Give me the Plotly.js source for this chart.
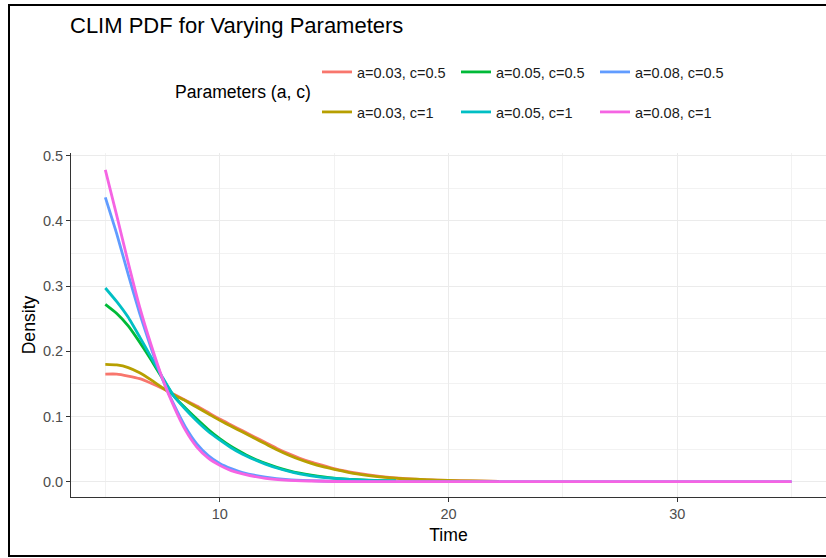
<!DOCTYPE html>
<html>
<head>
<meta charset="utf-8">
<script src="https://cdn.plot.ly/plotly-3.0.1.min.js"></script>
<style>
  html, body { margin: 0; padding: 0; background: #fff; overflow: hidden; }
  #chart { width: 826px; height: 558px; }
  #frame { position: absolute; left: 8px; top: 4px; width: 900px; height: 549px;
           border: 2px solid #000; pointer-events: none; box-sizing: content-box; }
</style>
</head>
<body>
<div id="chart"></div>
<div id="frame"></div>
<script>
// ---- Data ----
const seriesNames = ["a=0.03, c=0.5", "a=0.03, c=1", "a=0.05, c=0.5", "a=0.05, c=1", "a=0.08, c=0.5", "a=0.08, c=1"];
const seriesColors = ["#F8766D", "#B79F00", "#00BA38", "#00BFC4", "#619CFF", "#F564E3"];

const timeA003 = [5, 5.5, 6, 6.5, 7, 7.5, 8, 8.5, 9, 9.5, 10, 10.5, 11, 11.5, 12, 12.5, 13, 13.5, 14, 14.5, 15, 16, 17, 18, 19, 20, 21, 22.2];
const densA003c05 = [0.165, 0.165, 0.162, 0.158, 0.151, 0.143, 0.134, 0.125, 0.116, 0.106, 0.096, 0.087, 0.078, 0.069, 0.060, 0.051, 0.043, 0.036, 0.030, 0.025, 0.020, 0.013, 0.008, 0.005, 0.003, 0.002, 0.001, 0.0005];
const densA003c1  = [0.180, 0.179, 0.175, 0.167, 0.156, 0.144, 0.133, 0.124, 0.114, 0.104, 0.094, 0.085, 0.076, 0.067, 0.058, 0.049, 0.041, 0.034, 0.028, 0.023, 0.019, 0.012, 0.0075, 0.0045, 0.003, 0.0018, 0.001, 0.0005];

const timeA005 = [5, 5.5, 6, 6.5, 7, 7.5, 8, 8.5, 9, 9.5, 10, 10.5, 11, 11.5, 12, 12.5, 13, 13.5, 14, 15, 16, 17, 17.7];
const densA005c05 = [0.272, 0.258, 0.239, 0.214, 0.187, 0.158, 0.131, 0.113, 0.096, 0.080, 0.066, 0.054, 0.044, 0.035, 0.028, 0.022, 0.017, 0.013, 0.010, 0.0055, 0.003, 0.0015, 0.001];
const densA005c1  = [0.297, 0.276, 0.252, 0.222, 0.191, 0.160, 0.131, 0.111, 0.093, 0.077, 0.064, 0.052, 0.042, 0.034, 0.027, 0.021, 0.016, 0.012, 0.009, 0.005, 0.0027, 0.0014, 0.001];

const timeA008 = [5, 5.5, 6, 6.5, 7, 7.5, 8, 8.5, 9, 9.5, 10, 10.5, 11, 12, 13, 14, 15, 17, 20, 25, 30, 35];
const densA008c05 = [0.436, 0.380, 0.318, 0.258, 0.205, 0.157, 0.118, 0.084, 0.058, 0.040, 0.028, 0.020, 0.014, 0.007, 0.003, 0.0015, 0.0006, 0.0001, 0, 0, 0, 0];
const densA008c1  = [0.478, 0.408, 0.336, 0.268, 0.210, 0.158, 0.115, 0.079, 0.053, 0.036, 0.025, 0.017, 0.012, 0.005, 0.002, 0.001, 0.0003, 0.0001, 0, 0, 0, 0];

const xTickVals = [10, 20, 30];
const yTickVals = [0.0, 0.1, 0.2, 0.3, 0.4, 0.5];

const seriesX = [timeA003, timeA003, timeA005, timeA005, timeA008, timeA008];
const seriesY = [densA003c05, densA003c1, densA005c05, densA005c1, densA008c05, densA008c1];

const FONT = "Liberation Sans, Arial, sans-serif";

const traces = seriesNames.map((name, i) => ({
  type: "scatter",
  mode: "lines",
  name: name,
  x: seriesX[i],
  y: seriesY[i],
  line: { color: seriesColors[i], width: 2.8, shape: "spline", smoothing: 0.5 },
  legend: name.endsWith("c=0.5") ? "legend" : "legend2",
  hoverinfo: "skip"
}));

const legendCommon = {
  orientation: "h",
  xref: "paper", yref: "paper",
  x: 0.3258, xanchor: "left",
  yanchor: "middle",
  font: { family: FONT, size: 14.5, color: "#1a1a1a" },
  bgcolor: "rgba(0,0,0,0)",
  borderwidth: 0,
  entrywidthmode: "pixels",
  entrywidth: 94,
  itemwidth: 30,
  traceorder: "normal"
};

const layout = {
  width: 826, height: 558,
  paper_bgcolor: "#ffffff",
  plot_bgcolor: "#ffffff",
  margin: { l: 71, r: 0, t: 153, b: 61 },
  font: { family: FONT, color: "#000" },
  title: {
    text: "CLIM PDF for Varying Parameters",
    font: { family: FONT, size: 22, color: "#000" },
    xref: "container", yref: "container",
    x: 70 / 826, xanchor: "left",
    y: 1 - 25 / 558, yanchor: "middle"
  },
  showlegend: true,
  legend: Object.assign({}, legendCommon, { y: (497 - 72) / 344 }),
  legend2: Object.assign({}, legendCommon, { y: (497 - 112) / 344 }),
  annotations: [{
    text: "Parameters (a, c)",
    xref: "paper", yref: "paper",
    x: (173 - 71) / 755, xanchor: "left",
    y: (497 - 92) / 344, yanchor: "middle",
    showarrow: false,
    font: { family: FONT, size: 17.6, color: "#000" }
  }],
  xaxis: {
    range: [3.5, 36.5],
    tickvals: xTickVals,
    ticktext: xTickVals.map(String),
    showgrid: true, gridcolor: "#ebebeb", gridwidth: 1,
    minor: { dtick: 5, tick0: 0, showgrid: true, gridcolor: "#f2f2f2", gridwidth: 1, ticks: "" },
    zeroline: false,
    showline: true, linecolor: "#333333", linewidth: 1,
    ticks: "outside", ticklen: 4, tickcolor: "#333333", tickwidth: 1,
    tickfont: { family: FONT, size: 14.5, color: "#4d4d4d" },
    title: { text: "Time", font: { family: FONT, size: 17.6, color: "#000" }, standoff: 7 }
  },
  yaxis: {
    range: [-0.0235, 0.504],
    tickvals: yTickVals,
    ticktext: yTickVals.map(v => v.toFixed(1)),
    showgrid: true, gridcolor: "#ebebeb", gridwidth: 1,
    minor: { dtick: 0.05, tick0: 0, showgrid: true, gridcolor: "#f2f2f2", gridwidth: 1, ticks: "" },
    zeroline: false,
    showline: true, linecolor: "#333333", linewidth: 1,
    ticks: "outside", ticklen: 4, tickcolor: "#333333", tickwidth: 1,
    tickfont: { family: FONT, size: 14.5, color: "#4d4d4d" },
    title: { text: "Density", font: { family: FONT, size: 17.6, color: "#000" }, standoff: 2 }
  },
  hovermode: false
};

Plotly.newPlot("chart", traces, layout, { displayModeBar: false, staticPlot: true });
</script>
</body>
</html>
